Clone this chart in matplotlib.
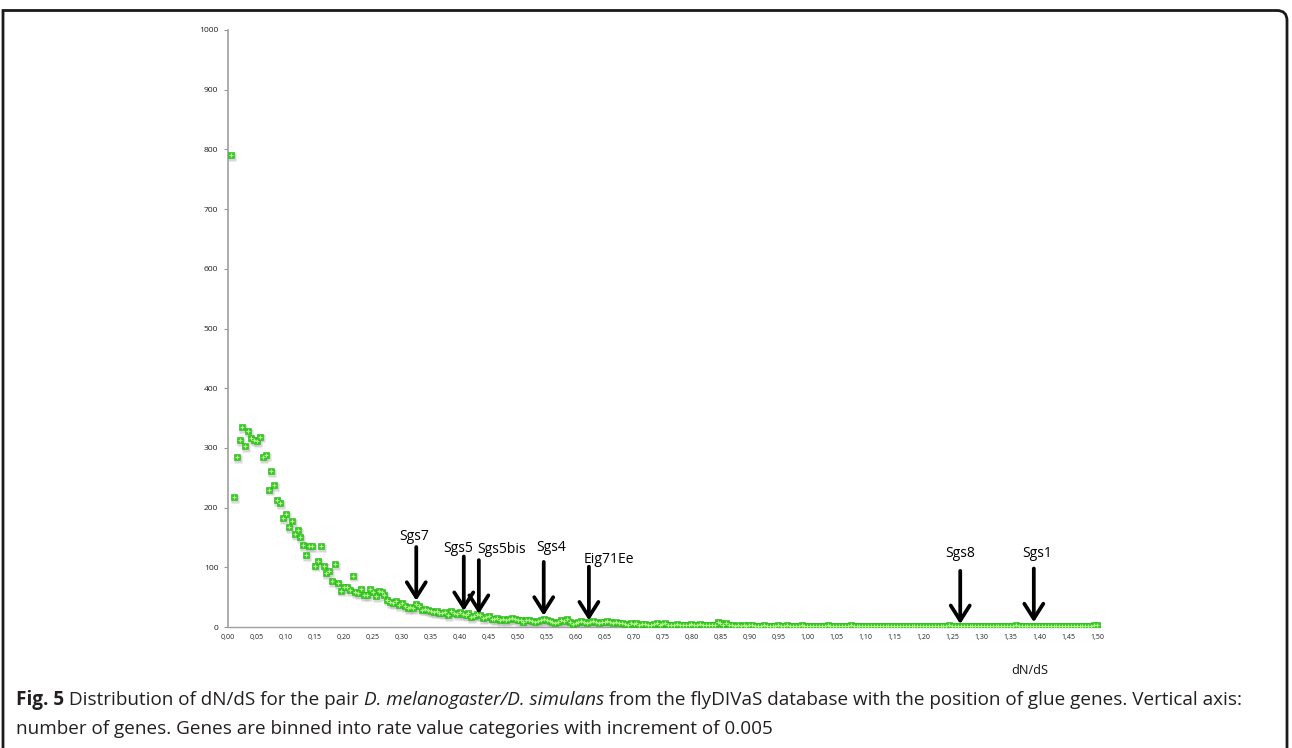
import matplotlib
matplotlib.use('Agg')
import matplotlib.pyplot as plt
import numpy as np
from matplotlib.path import Path
from matplotlib.patches import PathPatch
import matplotlib.transforms as mtransforms

# genes per dN/dS bin, bins of 0.005 starting at 0.005
counts = [
    790, 218, 284, 313, 335, 303, 328, 317, 313, 312,
    319, 285, 288, 230, 261, 238, 213, 207, 183, 189,
    168, 178, 155, 162, 151, 137, 121, 135, 135, 103,
    110, 136, 103, 90, 93, 77, 105, 73, 61, 67,
    67, 62, 86, 58, 57, 63, 53, 53, 63, 58,
    52, 61, 59, 54, 46, 42, 40, 43, 37, 41,
    35, 32, 34, 31, 39, 35, 29, 30, 28, 27,
    25, 27, 24, 23, 25, 20, 26, 24, 22, 25,
    21, 20, 23, 17, 19, 21, 20, 15, 16, 19,
    14, 13, 15, 12, 13, 11, 13, 15, 14, 12,
    11, 9, 11, 12, 10, 8, 10, 12, 13, 11,
    10, 8, 7, 9, 11, 10, 13, 9, 5, 6,
    8, 10, 9, 7, 9, 10, 8, 6, 9, 8,
    10, 9, 7, 8, 6, 7, 5, 4, 6, 5,
    6, 4, 5, 5, 4, 3, 5, 6, 4, 5,
    6, 4, 3, 4, 5, 3, 4, 3, 4, 5,
    3, 4, 5, 3, 4, 3, 4, 3, 9, 6,
    3, 6, 4, 3, 2, 3, 2, 3, 2, 3,
    3, 2, 1, 2, 3, 2, 2, 1, 2, 3,
    2, 2, 3, 2, 1, 2, 2, 3, 2, 2,
    2, 1, 2, 2, 1, 2, 3, 2, 1, 2,
    2, 1, 2, 2, 3, 2, 1, 2, 2, 1,
    1, 2, 1, 2, 2, 1, 1, 2, 1, 2,
    1, 1, 2, 1, 2, 1, 1, 2, 2, 1,
    1, 2, 1, 1, 2, 2, 1, 2, 3, 2,
    1, 1, 2, 1, 2, 2, 1, 1, 2, 1,
    1, 2, 1, 1, 2, 1, 2, 2, 1, 1,
    2, 3, 2, 1, 1, 2, 1, 1, 2, 1,
    1, 1, 2, 1, 2, 1, 1, 2, 1, 1,
    2, 1, 2, 1, 1, 2, 2, 1, 3, 4,
]
bin_width = 0.005
dnds = bin_width * (np.arange(len(counts)) + 1)

# glue genes: name, dN/dS, arrow tail, arrow head, label x, label y
genes = ['Sgs7', 'Sgs5', 'Sgs5bis', 'Sgs4', 'Eig71Ee', 'Sgs8', 'Sgs1']
gene_x = [0.325, 0.407, 0.433, 0.545, 0.623, 1.264, 1.391]
arrow_tail = [134, 118, 112, 109, 101, 94, 98]
arrow_head = [44, 27, 22, 19, 11, 5, 8]
label_x = [0.322, 0.397, 0.472, 0.558, 0.657, 1.264, 1.397]
label_y = [152, 132, 129, 133, 113, 123, 123]

yticks = list(range(0, 1001, 100))
xticks = [round(0.05 * i, 2) for i in range(31)]
xticklabels = [f"{v:.2f}".replace('.', ',') for v in xticks]

W, H = 1292, 748
fig = plt.figure(figsize=(W / 100, H / 100), dpi=100)
ax = fig.add_axes([228 / W, 1 - 627 / H, (1.505 * 579.3) / W, 597 / H])

# soft shadow under markers like the spreadsheet style
shadow = mtransforms.offset_copy(ax.transData, fig=fig, x=1.0, y=-1.8, units='dots')
ax.plot(dnds, counts, 's', ms=5.4, color='#b8b8b8', alpha=0.55, mec='none',
        transform=shadow, zorder=2)
ax.plot(dnds, counts, 's', ms=5.0, color='#33cc22', mec='#2ab51c', mew=0.4, zorder=3)
ax.plot(dnds, counts, '+', ms=3.5, color='#b6f08e', mew=0.8, zorder=4)

for name, gx, tail, head, lx, ly in zip(genes, gene_x, arrow_tail, arrow_head, label_x, label_y):
    ax.annotate('', xy=(gx, head), xytext=(gx, tail),
                arrowprops=dict(arrowstyle='->,head_length=0.6,head_width=0.38',
                                lw=2.7, color='black', mutation_scale=18,
                                shrinkA=0, shrinkB=0),
                zorder=5)
    ax.text(lx, ly, name, ha='center', va='center', fontsize=10,
            family='Open Sans', color='black', zorder=6)

ax.set_xlim(0, 1.505)
ax.set_ylim(0, 1000)
ax.set_yticks(yticks)
ax.set_yticklabels([str(v) for v in yticks], fontsize=6.1, family='Open Sans', color='#222222')
ax.set_xticks(xticks)
ax.set_xticklabels(xticklabels, fontsize=5.0, family='Open Sans', color='#222222')
ax.tick_params(axis='y', length=3, width=0.8, color='#999999', pad=4)
ax.tick_params(axis='x', length=0, pad=5)
for side in ['top', 'right']:
    ax.spines[side].set_visible(False)
ax.spines['left'].set_color('#a0a0a0')
ax.spines['left'].set_linewidth(1.2)
ax.spines['bottom'].set_color('#a0a0a0')
ax.spines['bottom'].set_linewidth(1.0)
ax.set_facecolor('none')

fig.text(1030 / W, 1 - 670 / H, 'dN/dS', ha='center', va='center', fontsize=9.2,
         family='Open Sans', color='#111111')

# frame of the figure panel, rounded at the top right corner
def px(x, y):
    return (x / W, 1 - y / H)

verts = [px(3, H + 5), px(3, 10.5), px(1277, 10.5), px(1287, 10.5), px(1287, 20.5), px(1287, H + 5)]
codes = [Path.MOVETO, Path.LINETO, Path.LINETO, Path.CURVE3, Path.CURVE3, Path.LINETO]
fig.patches.append(PathPatch(Path(verts, codes), transform=fig.transFigure, fill=False,
                             lw=2.0, edgecolor='#1a1a1a'))

# caption
caption_lines = [
    [('Fig. 5', 'bold', 'normal'),
     (' Distribution of dN/dS for the pair ', 'normal', 'normal'),
     ('D. melanogaster/D. simulans', 'normal', 'italic'),
     (' from the flyDIVaS database with the position of glue genes. Vertical axis:', 'normal', 'normal')],
    [('number of genes. Genes are binned into rate value categories with increment of 0.005',
      'normal', 'normal')],
]
caption_y = [700, 729]
renderer = fig.canvas.get_renderer()
for pieces, cy in zip(caption_lines, caption_y):
    x0 = 16
    for txt, weight, style in pieces:
        t = fig.text(x0 / W, 1 - cy / H, txt, ha='left', va='center', fontsize=13.6,
                     family='Open Sans', weight=weight, style=style, color='#231f20')
        x0 += t.get_window_extent(renderer).width

fig.savefig('out.png', dpi=100)
